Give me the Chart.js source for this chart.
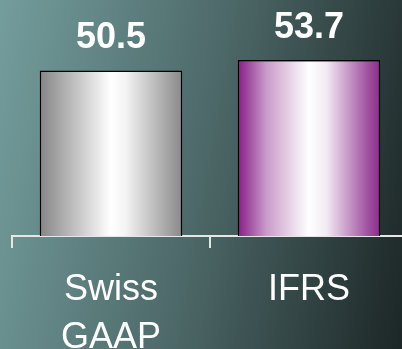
<!DOCTYPE html>
<html>
<head>
<meta charset="utf-8">
<script src="https://cdn.jsdelivr.net/npm/chart.js@4/dist/chart.umd.min.js"></script>
<style>
  html, body { margin: 0; padding: 0; overflow: hidden; width: 402px; height: 349px; }
  body { background: linear-gradient(100deg, #749d9d 0%, #4d6868 50%, #1c2626 100%); }
  #wrap { position: relative; width: 410px; height: 349px; }
</style>
</head>
<body>
<div id="wrap"><canvas id="c"></canvas></div>
<script>
const categories = [['Swiss', 'GAAP'], 'IFRS'];
const values = [50.5, 53.7];
const valueLabels = ['50.5', '53.7'];
const edgeColors = [['#858585', '#898989'], ['#871c87', '#8b2b8b']];

const CAT_PCT = 0.8, BAR_PCT = 0.9;

function barGradient(ctx) {
  const chart = ctx.chart;
  const xs = chart.scales && chart.scales.x;
  if (!chart.chartArea || !xs || ctx.dataIndex === undefined) return '#999';
  const i = ctx.dataIndex;
  const cx = xs.getPixelForValue(i);
  const catW = (xs.right - xs.left) / categories.length;
  const half = catW * CAT_PCT * BAR_PCT / 2;
  const g = chart.ctx.createLinearGradient(cx - half, 0, cx + half, 0);
  const [l, r] = edgeColors[i];
  if (i === 1) {
    g.addColorStop(0, l);
    g.addColorStop(0.2, '#c99bc9');
    g.addColorStop(0.5, '#ffffff');
    g.addColorStop(0.62, '#f3ebf3');
    g.addColorStop(0.9, '#a458a4');
    g.addColorStop(1, r);
  } else {
    g.addColorStop(0, l);
    g.addColorStop(0.5, '#ffffff');
    g.addColorStop(0.6, '#f4f4f4');
    g.addColorStop(1, r);
  }
  return g;
}

const valueLabelPlugin = {
  id: 'valueLabels',
  afterDatasetsDraw(chart) {
    const ctx = chart.ctx;
    const meta = chart.getDatasetMeta(0);
    ctx.save();
    ctx.font = 'bold 36px "Liberation Sans", Arial, sans-serif';
    ctx.fillStyle = '#ffffff';
    ctx.textAlign = 'center';
    ctx.textBaseline = 'alphabetic';
    meta.data.forEach((bar, i) => {
      ctx.fillText(valueLabels[i], bar.x, bar.y - 22);
    });
    ctx.restore();
  }
};

new Chart(document.getElementById('c'), {
  type: 'bar',
  data: {
    labels: categories,
    datasets: [{
      data: values,
      backgroundColor: barGradient,
      borderColor: '#000000',
      borderWidth: 1.5,
      categoryPercentage: CAT_PCT,
      barPercentage: BAR_PCT
    }]
  },
  options: {
    responsive: true,
    maintainAspectRatio: false,
    animation: false,
    layout: { padding: { left: 12, right: 2, top: 0, bottom: 0 } },
    plugins: { legend: { display: false }, tooltip: { enabled: false } },
    scales: {
      y: { display: false, min: 0, max: 72 },
      x: {
        afterFit: s => { s.height = 113; },
        border: { display: true, color: '#e6e6e6', width: 2 },
        grid: { display: true, offset: true, drawOnChartArea: false, drawTicks: true, tickLength: 12, color: '#e6e6e6', lineWidth: 2 },
        ticks: {
          color: '#ffffff',
          padding: 18,
          font: { family: '"Liberation Sans", Arial, sans-serif', size: 36, lineHeight: 1.33 }
        }
      }
    }
  },
  plugins: [valueLabelPlugin]
});
</script>
</body>
</html>
